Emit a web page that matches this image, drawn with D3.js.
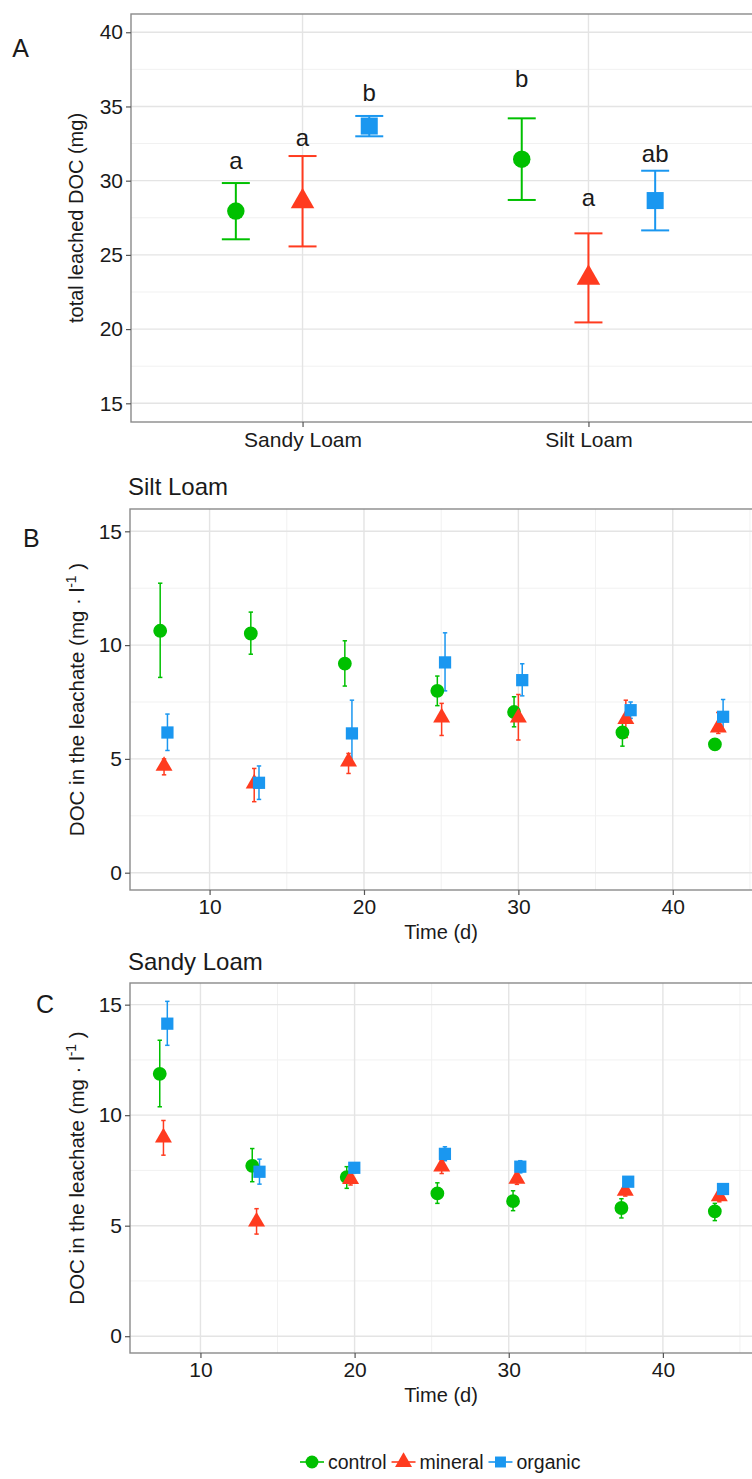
<!DOCTYPE html>
<html><head><meta charset="utf-8">
<script src="https://cdn.jsdelivr.net/npm/d3@7"></script>
<style>
body{margin:0;background:#fff}
svg text{font-family:"Liberation Sans",Arial,Helvetica,sans-serif;fill:#1a1a1a}
</style>
</head><body>
<svg id="chart" width="752" height="1479"></svg>
<script>
// ---------- data ----------
const treatments = ["control", "mineral", "organic"];
const treatmentColors = ["#00c000", "#ff3b1f", "#1a97f0"];

// Panel A: total leached DOC (mg), per soil: [control, mineral, organic]
const soils = ["Sandy Loam", "Silt Loam"];
const aMean = [[27.95, 28.6, 33.68], [31.45, 23.45, 28.66]];
const aLow  = [[26.05, 25.57, 32.99], [28.7, 20.45, 26.65]];
const aHigh = [[29.84, 31.66, 34.36], [34.2, 26.45, 30.67]];
const aLetters = [["a", "a", "b"], ["b", "a", "ab"]];
const aLetterY = [[30.8, 32.35, 35.4], [36.3, 28.3, 31.25]];
const aTicks = [15, 20, 25, 30, 35, 40];

// Panel B: Silt Loam
const bControlX  = [6.8, 12.67, 18.76, 24.75, 29.72, 36.74, 42.73];
const bControlY  = [10.63, 10.51, 9.19, 7.99, 7.06, 6.16, 5.64];
const bControlLo = [8.58, 9.6, 8.2, 7.34, 6.41, 5.56, 5.45];
const bControlHi = [12.72, 11.45, 10.19, 8.64, 7.73, 6.7, 5.8];
const bMineralX  = [7.05, 12.89, 19.0, 25.03, 30.0, 36.96, 42.95];
const bMineralY  = [4.69, 3.92, 4.88, 6.82, 6.81, 6.75, 6.38];
const bMineralLo = [4.3, 3.12, 4.36, 6.03, 5.83, 5.94, 6.12];
const bMineralHi = [5.0, 4.58, 5.24, 7.44, 7.83, 7.58, 7.04];
const bOrganicX  = [7.27, 13.2, 19.22, 25.25, 30.25, 37.27, 43.26];
const bOrganicY  = [6.16, 3.95, 6.12, 9.24, 8.46, 7.14, 6.85];
const bOrganicLo = [5.37, 3.22, 4.73, 7.99, 7.77, 6.78, 6.24];
const bOrganicHi = [6.97, 4.69, 7.58, 10.54, 9.18, 7.5, 7.61];

// Panel C: Sandy Loam
const cControlX  = [7.36, 13.36, 19.49, 25.37, 30.28, 37.31, 43.37];
const cControlY  = [11.87, 7.71, 7.2, 6.46, 6.11, 5.8, 5.65];
const cControlLo = [10.38, 6.99, 6.69, 6.01, 5.68, 5.35, 5.23];
const cControlHi = [13.39, 8.49, 7.67, 6.94, 6.58, 6.22, 6.01];
const cMineralX  = [7.6, 13.64, 19.74, 25.65, 30.53, 37.56, 43.66];
const cMineralY  = [8.99, 5.18, 7.11, 7.67, 7.12, 6.58, 6.33];
const cMineralLo = [8.19, 4.62, 6.84, 7.36, 6.87, 6.34, 6.08];
const cMineralHi = [9.76, 5.77, 7.36, 7.97, 7.39, 6.84, 6.58];
const cOrganicX  = [7.85, 13.83, 19.98, 25.86, 30.75, 37.75, 43.9];
const cOrganicY  = [14.14, 7.44, 7.62, 8.25, 7.67, 6.99, 6.66];
const cOrganicLo = [13.16, 6.88, 7.39, 7.94, 7.39, 6.84, 6.51];
const cOrganicHi = [15.15, 8.01, 7.82, 8.57, 7.94, 7.14, 6.81];

const timeTicks = [10, 20, 30, 40];
const timeMinor = [15, 25, 35, 45];
const docTicks = [0, 5, 10, 15];

// ---------- drawing ----------
const svg = d3.select("#chart");
svg.append("rect").attr("width", 752).attr("height", 1479).attr("fill", "#fff");

const symbolTypes = [d3.symbolCircle, d3.symbolTriangle, d3.symbolSquare];
const MAJOR = "#e4e4e4", MINOR = "#f1f1f1", BORDER = "#8a8a8a", TICKTXT = "#2b2b2b";

function frame(g, x0, x1, y0, y1, yScale, yMajor, yMinor, xMajorPos, xMinorPos) {
  const clipId = "clip" + Math.round(y0);
  svg.append("clipPath").attr("id", clipId).append("rect")
    .attr("x", x0).attr("y", y0).attr("width", x1 - x0).attr("height", y1 - y0);
  const grid = g.append("g").attr("clip-path", `url(#${clipId})`);
  yMinor.forEach(v => grid.append("line").attr("x1", x0).attr("x2", x1)
    .attr("y1", yScale(v)).attr("y2", yScale(v)).attr("stroke", MINOR).attr("stroke-width", 1));
  xMinorPos.forEach(p => grid.append("line").attr("y1", y0).attr("y2", y1)
    .attr("x1", p).attr("x2", p).attr("stroke", MINOR).attr("stroke-width", 1));
  yMajor.forEach(v => grid.append("line").attr("x1", x0).attr("x2", x1)
    .attr("y1", yScale(v)).attr("y2", yScale(v)).attr("stroke", MAJOR).attr("stroke-width", 1.4));
  xMajorPos.forEach(p => grid.append("line").attr("y1", y0).attr("y2", y1)
    .attr("x1", p).attr("x2", p).attr("stroke", MAJOR).attr("stroke-width", 1.4));
  g.append("rect").attr("x", x0).attr("y", y0).attr("width", x1 - x0).attr("height", y1 - y0)
    .attr("fill", "none").attr("stroke", BORDER).attr("stroke-width", 1.4);
  return clipId;
}

function yAxisLeft(g, x0, yScale, ticks, fs) {
  const ax = d3.axisLeft(yScale).tickValues(ticks).tickSize(5).tickPadding(3);
  const a = g.append("g").attr("transform", `translate(${x0},0)`).call(ax);
  a.select(".domain").remove();
  a.selectAll(".tick line").attr("stroke", "#555").attr("stroke-width", 1.2);
  a.selectAll(".tick text").attr("font-size", fs).attr("fill", TICKTXT)
    .style("font-family", '"Liberation Sans",Arial,sans-serif');
}

function xAxisBottom(g, y1, xScale, ticks, fmt, fs, dy) {
  const ax = d3.axisBottom(xScale).tickValues(ticks).tickSize(5).tickPadding(4).tickFormat(fmt);
  const a = g.append("g").attr("transform", `translate(0,${y1})`).call(ax);
  a.select(".domain").remove();
  a.selectAll(".tick line").attr("stroke", "#555").attr("stroke-width", 1.2);
  a.selectAll(".tick text").attr("font-size", fs).attr("fill", TICKTXT).attr("dy", dy)
    .style("font-family", '"Liberation Sans",Arial,sans-serif');
}

// ===== Panel A =====
(function () {
  const x0 = 131, x1 = 760, y0 = 14, y1 = 422;
  const x = d3.scaleLinear().domain([0.4, 2.6]).range([x0, x1]);
  const y = d3.scaleLinear().domain([13.74, 41.23]).range([y1, y0]);
  const dodge = 0.7 / 3;
  const g = svg.append("g");
  const minor = aTicks.slice(0, -1).map(v => v + 2.5);
  const clip = frame(g, x0, x1, y0, y1, y, aTicks, minor, soils.map((s, i) => x(i + 1)), []);
  yAxisLeft(g, x0, y, aTicks, 21);
  xAxisBottom(g, y1, d3.scaleLinear().domain([0.4, 2.6]).range([x0, x1]), [1, 2], d => soils[d - 1], 21, "0.78em");

  const marks = g.append("g").attr("clip-path", `url(#${clip})`);
  const sizes = [240, 240, 290];
  soils.forEach((s, si) => {
    treatments.forEach((t, ti) => {
      const cx = x(si + 1 + (ti - 1) * dodge);
      const col = treatmentColors[ti];
      const cap = 14;
      marks.append("line").attr("x1", cx).attr("x2", cx).attr("y1", y(aLow[si][ti])).attr("y2", y(aHigh[si][ti]))
        .attr("stroke", col).attr("stroke-width", 2);
      [aLow[si][ti], aHigh[si][ti]].forEach(v => marks.append("line")
        .attr("x1", cx - cap).attr("x2", cx + cap).attr("y1", y(v)).attr("y2", y(v))
        .attr("stroke", col).attr("stroke-width", 2));
      marks.append("path").attr("d", d3.symbol().type(symbolTypes[ti]).size(sizes[ti])())
        .attr("transform", `translate(${cx},${y(aMean[si][ti])})`).attr("fill", col);
      g.append("text").attr("x", cx).attr("y", y(aLetterY[si][ti])).attr("text-anchor", "middle")
        .attr("font-size", 24).attr("fill", "#111").text(aLetters[si][ti]);
    });
  });

  svg.append("text").attr("transform", `translate(83,${(y0 + y1) / 2}) rotate(-90)`)
    .attr("text-anchor", "middle").attr("font-size", 20).attr("fill", "#222")
    .text("total leached DOC (mg)");
  svg.append("text").attr("x", 20.5).attr("y", 57).attr("text-anchor", "middle")
    .attr("font-size", 25).attr("fill", "#111").text("A");
})();

// ===== Panels B & C =====
function timePanel(cfg) {
  const { x0, x1, y0, y1, xDomain, series, title, titleY, letter, letterX, letterY, tickDy, xTitleY } = cfg;
  const x = d3.scaleLinear().domain(xDomain).range([x0, x1]);
  const y = d3.scaleLinear().domain([-0.76, 15.98]).range([y1, y0]);
  const g = svg.append("g");
  const yMinor = [2.5, 7.5, 12.5];
  const clip = frame(g, x0, x1, y0, y1, y, docTicks, yMinor, timeTicks.map(x), timeMinor.map(x));
  yAxisLeft(g, x0, y, docTicks, 21);
  xAxisBottom(g, y1, x, timeTicks, d3.format("d"), 21, tickDy);

  const marks = g.append("g").attr("clip-path", `url(#${clip})`);
  const sizes = [150, 125, 150];
  series.forEach((s, ti) => {
    const col = treatmentColors[ti];
    s.x.forEach((xv, i) => {
      const cx = x(xv);
      marks.append("line").attr("x1", cx).attr("x2", cx).attr("y1", y(s.lo[i])).attr("y2", y(s.hi[i]))
        .attr("stroke", col).attr("stroke-width", 1.5);
      [s.lo[i], s.hi[i]].forEach(v => marks.append("line")
        .attr("x1", cx - 2.2).attr("x2", cx + 2.2).attr("y1", y(v)).attr("y2", y(v))
        .attr("stroke", col).attr("stroke-width", 1.5));
    });
  });
  series.forEach((s, ti) => {
    const col = treatmentColors[ti];
    s.x.forEach((xv, i) => {
      marks.append("path").attr("d", d3.symbol().type(symbolTypes[ti]).size(sizes[ti])())
        .attr("transform", `translate(${x(xv)},${y(s.y[i])})`).attr("fill", col);
    });
  });

  svg.append("text").attr("x", 128).attr("y", titleY).attr("font-size", 24).attr("fill", "#111").text(title);
  svg.append("text").attr("x", letterX).attr("y", letterY).attr("font-size", 25).attr("fill", "#111").text(letter);
  svg.append("text").attr("x", 441).attr("y", xTitleY).attr("text-anchor", "middle")
    .attr("font-size", 20).attr("fill", "#222").text("Time (d)");
  const yt = svg.append("text").attr("transform", `translate(84,${(y0 + y1) / 2}) rotate(-90)`)
    .attr("text-anchor", "middle").attr("font-size", 20.5).attr("fill", "#222");
  yt.append("tspan").text("DOC in the leachate (mg \u00B7 l");
  yt.append("tspan").attr("font-size", 14).attr("dy", -8).text("-1");
  yt.append("tspan").attr("dy", 8).text(" )");
}

timePanel({
  x0: 130, x1: 760, y0: 509, y1: 890, xDomain: [4.845, 45.65],
  series: [
    { x: bControlX, y: bControlY, lo: bControlLo, hi: bControlHi },
    { x: bMineralX, y: bMineralY, lo: bMineralLo, hi: bMineralHi },
    { x: bOrganicX, y: bOrganicY, lo: bOrganicLo, hi: bOrganicHi }
  ],
  title: "Silt Loam", titleY: 495, letter: "B", letterX: 23, letterY: 547, tickDy: "0.72em", xTitleY: 939
});

timePanel({
  x0: 130, x1: 760, y0: 983, y1: 1353, xDomain: [5.43, 46.3],
  series: [
    { x: cControlX, y: cControlY, lo: cControlLo, hi: cControlHi },
    { x: cMineralX, y: cMineralY, lo: cMineralLo, hi: cMineralHi },
    { x: cOrganicX, y: cOrganicY, lo: cOrganicLo, hi: cOrganicHi }
  ],
  title: "Sandy Loam", titleY: 970, letter: "C", letterX: 36, letterY: 1013, tickDy: "0.72em", xTitleY: 1402
});

// ===== Legend =====
(function () {
  const ly = 1462;
  let cx = 300;
  const lg = svg.append("g");
  const sizes = [130, 125, 120];
  treatments.forEach((t, ti) => {
    const col = treatmentColors[ti];
    lg.append("line").attr("x1", cx).attr("x2", cx + 24).attr("y1", ly).attr("y2", ly)
      .attr("stroke", col).attr("stroke-width", 1.6);
    lg.append("path").attr("d", d3.symbol().type(symbolTypes[ti]).size(sizes[ti])())
      .attr("transform", `translate(${cx + 12},${ly})`).attr("fill", col);
    const tx = lg.append("text").attr("x", cx + 28).attr("y", ly + 7).attr("font-size", 19.5)
      .attr("fill", "#222").text(t);
    cx = cx + 28 + tx.node().getComputedTextLength() + 5;
  });
})();
</script>
</body></html>
